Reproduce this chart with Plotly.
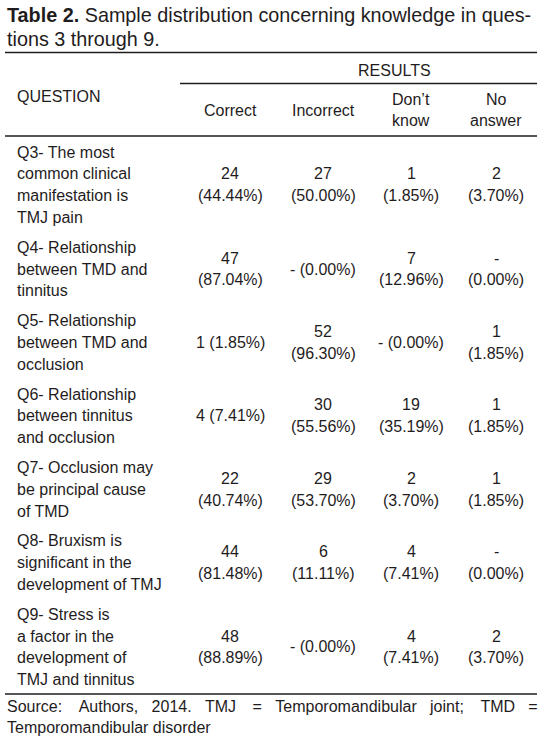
import plotly.graph_objects as go

# ---------------- data ----------------
title_bold = "Table 2."
title_lines = ["Sample distribution concerning knowledge in ques-", "tions 3 through 9."]
group_header = "RESULTS"
row_header = "QUESTION"
columns = ["Correct", "Incorrect", "Don\u2019t<br>know", "No<br>answer"]

questions = [
    "Q3- The most<br>common clinical<br>manifestation is<br>TMJ pain",
    "Q4- Relationship<br>between TMD and<br>tinnitus",
    "Q5- Relationship<br>between TMD and<br>occlusion",
    "Q6- Relationship<br>between tinnitus<br>and occlusion",
    "Q7- Occlusion may<br>be principal cause<br>of TMD",
    "Q8- Bruxism is<br>significant in the<br>development of TMJ",
    "Q9- Stress is<br>a factor in the<br>development of<br>TMJ and tinnitus",
]

correct_n = [24, 47, 1, 4, 22, 44, 48]
correct_pct = [44.44, 87.04, 1.85, 7.41, 40.74, 81.48, 88.89]
incorrect_n = [27, None, 52, 30, 29, 6, None]
incorrect_pct = [50.00, 0.00, 96.30, 55.56, 53.70, 11.11, 0.00]
dontknow_n = [1, 7, None, 19, 2, 4, 4]
dontknow_pct = [1.85, 12.96, 0.00, 35.19, 3.70, 7.41, 7.41]
noanswer_n = [2, None, 1, 1, 1, None, 2]
noanswer_pct = [3.70, 0.00, 1.85, 1.85, 1.85, 0.00, 3.70]

footer_words = ["Source:", "Authors,", "2014.", "TMJ", "=", "Temporomandibular", "joint;", "TMD", "="]
footer_last = "Temporomandibular disorder"

# cells written on a single line (layout only)
inline_cells = {(1, 1), (2, 0), (2, 2), (3, 0), (6, 1)}

# ---------------- layout ----------------
# one data unit equals one page pixel (the page margin is removed below)
PAGE_W, PAGE_H = 544, 742
FONT = "Liberation Sans, Arial, Helvetica, sans-serif"
INK = "#1f1c1d"
BODY = 16
TITLE = 19.8
LH = 21.8
ROW_GAP = 8.0
LEFT = 5
RIGHT = 537
Q_X = 15
COL_X = [230, 323, 411, 496]

annotations = []
shapes = []


def txt(x, y, s, size=BODY, anchor="left"):
    annotations.append(dict(
        x=x, y=y, xref="x", yref="y", text=s, showarrow=False,
        xanchor=anchor, yanchor="middle",
        font=dict(family=FONT, size=size, color=INK),
    ))


def rule(y, x0=LEFT, x1=RIGHT):
    shapes.append(dict(type="line", xref="x", yref="y", x0=x0, x1=x1, y0=y, y1=y,
                       line=dict(color=INK, width=1.3)))


# title
txt(LEFT, 15, "<b>" + title_bold + "</b> " + title_lines[0], size=TITLE)
txt(LEFT, 39, title_lines[1], size=TITLE)
rule(52.5)

# header
txt(356, 70, group_header)
rule(83.5, x0=180)
txt(Q_X, 96, row_header)
for cx, c in zip(COL_X, columns):
    parts = c.split("<br>")
    if len(parts) == 1:
        txt(cx, 110, parts[0], anchor="center")
    else:
        txt(cx, 110 - LH / 2, parts[0], anchor="center")
        txt(cx, 110 + LH / 2, parts[1], anchor="center")
rule(136)


def fmt_parts(n, p, inline):
    a = "-" if n is None else str(n)
    b = "(%.2f%%)" % p
    return [a + " " + b] if inline else [a, b]


y = 152.0
series = [(correct_n, correct_pct), (incorrect_n, incorrect_pct),
          (dontknow_n, dontknow_pct), (noanswer_n, noanswer_pct)]
for i, q in enumerate(questions):
    qlines = q.split("<br>")
    for k, line in enumerate(qlines):
        txt(Q_X, y + k * LH, line)
    mid = y + (len(qlines) - 1) * LH / 2
    for j, (ns, ps) in enumerate(series):
        parts = fmt_parts(ns[i], ps[i], (i, j) in inline_cells)
        for k, p in enumerate(parts):
            txt(COL_X[j], mid + (k - (len(parts) - 1) / 2) * LH, p, anchor="center")
    y += len(qlines) * LH + ROW_GAP

rule(694)
# justified first footer line: widened word gaps
wide = "\u00a0\u00a0\u00a0\u2009"
narrow = "\u00a0\u00a0\u00a0"
footer_line = footer_words[0]
for k, w in enumerate(footer_words[1:]):
    footer_line += (wide if k % 3 == 0 else narrow) + w
txt(LEFT, 706.5, footer_line)
txt(LEFT, 727.5, footer_last)

fig = go.Figure()
fig.update_layout(
    width=PAGE_W, height=PAGE_H,
    margin=dict(l=0, r=0, t=0, b=0),
    paper_bgcolor="white", plot_bgcolor="white",
    xaxis=dict(range=[0, PAGE_W], visible=False, fixedrange=True),
    yaxis=dict(range=[PAGE_H, 0], visible=False, fixedrange=True),
    annotations=annotations, shapes=shapes, showlegend=False,
)
fig.write_html(
    "out.html",
    config={"displayModeBar": False},
    post_script="document.body.style.margin='0px';document.body.style.overflow='hidden';",
)
